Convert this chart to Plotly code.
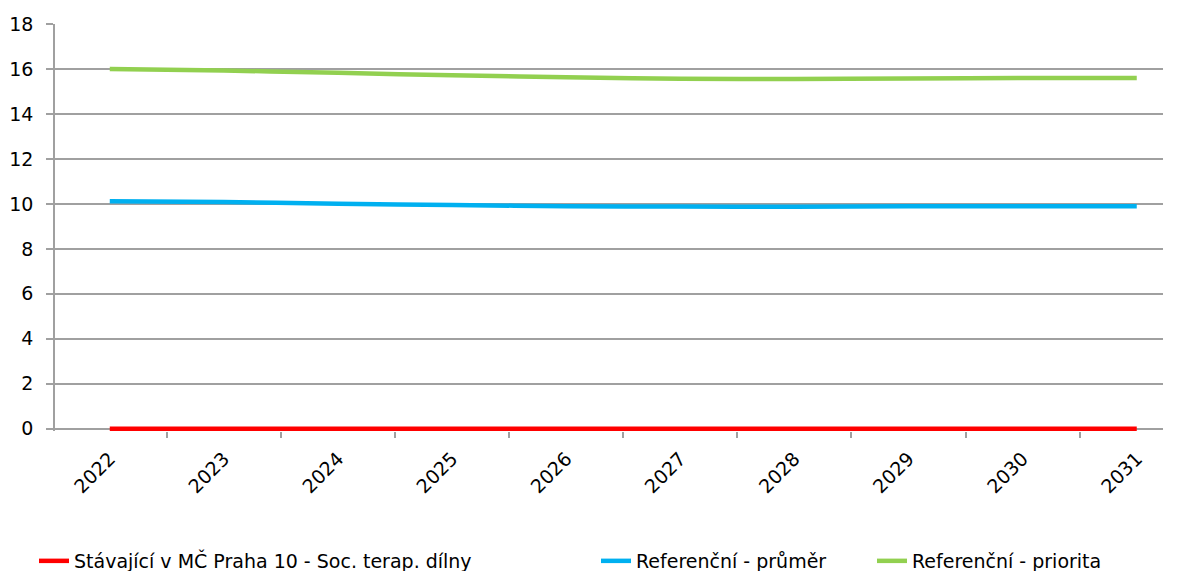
import plotly.graph_objects as go

years = ["2022", "2023", "2024", "2025", "2026", "2027", "2028", "2029", "2030", "2031"]
stavajici = [0, 0, 0, 0, 0, 0, 0, 0, 0, 0]
prumer = [10.12, 10.08, 10.01, 9.95, 9.9, 9.88, 9.87, 9.89, 9.9, 9.9]
priorita = [16.0, 15.93, 15.83, 15.72, 15.63, 15.57, 15.55, 15.58, 15.6, 15.6]

names = ["Stávající v MČ Praha 10 - Soc. terap. dílny", "Referenční - průměr", "Referenční - priorita"]
colors = ["#ff0000", "#00b0f0", "#92d050"]
legend_ids = ["legend", "legend2", "legend3"]
legend_text_px = [75, 637, 913]

W, H = 1184, 571
FS = 19
OFF = 8  # page body margin

fig = go.Figure()
for name, vals, col, lg in zip(names, [stavajici, prumer, priorita], colors, legend_ids):
    fig.add_trace(go.Scatter(x=years, y=vals, name=name, mode="lines", legend=lg,
                             line=dict(color=col, width=4.5, shape="spline")))

grid = "#a0a0a0"
layout = dict(
    width=W, height=H,
    margin=dict(l=55 - OFF, r=W - (1163 - OFF), t=24 - OFF, b=H - (431 - OFF), autoexpand=False),
    paper_bgcolor="white", plot_bgcolor="white",
    font=dict(family="DejaVu Sans", size=FS, color="black"),
    showlegend=True,
    xaxis=dict(type="category", tickangle=-45, showgrid=False, range=[-0.48, 9.23],
               showline=False, ticks="outside", tickson="boundaries",
               ticklen=6, tickcolor=grid, tickwidth=1.5, ticklabelstandoff=12,
               zeroline=False, automargin=False),
    yaxis=dict(range=[-0.1, 18], dtick=2, showgrid=True, gridcolor=grid, gridwidth=1.5,
               showline=True, linecolor=grid, linewidth=1.5,
               ticks="outside", ticklen=7, tickcolor=grid, tickwidth=1.5, ticklabelstandoff=9,
               zeroline=True, zerolinecolor=grid, zerolinewidth=1.5, automargin=False),
)
for lg, tx in zip(legend_ids, legend_text_px):
    layout[lg] = dict(orientation="h", xref="container", yref="container",
                      x=(tx - OFF - 41) / W, xanchor="left", y=(H - (561 - OFF)) / H, yanchor="middle",
                      font=dict(size=FS), bgcolor="rgba(0,0,0,0)", borderwidth=0)
fig.update_layout(**layout)
fig.write_html("out.html")
